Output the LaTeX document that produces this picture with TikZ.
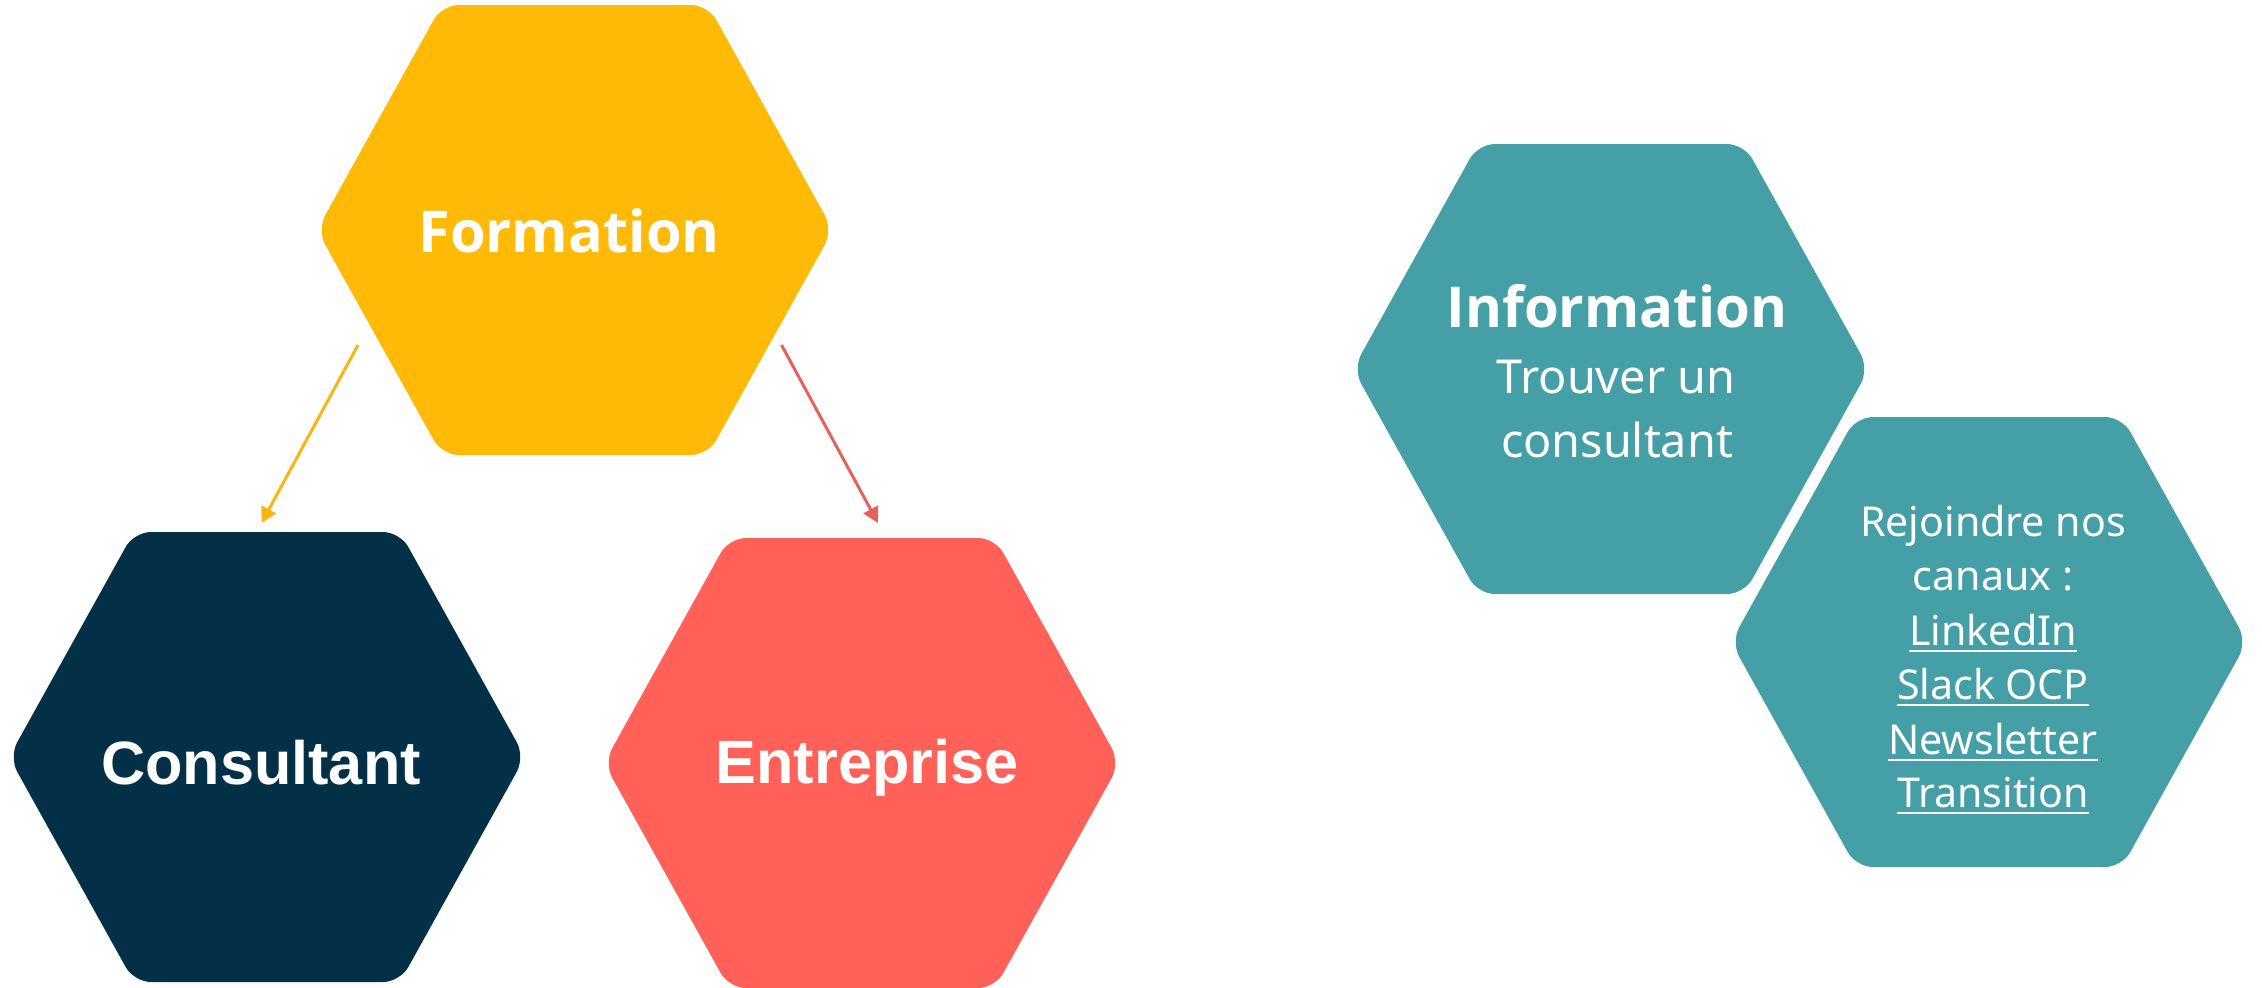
\documentclass[tikz,border=0pt]{standalone}
\usepackage{fontspec}
\setmainfont{Liberation Sans}
\newfontfamily\notofont{Noto Sans}
\newfontfamily\boldsans{Open Sans}
\usetikzlibrary{arrows.meta}
\definecolor{formc}{HTML}{FFB907}
\definecolor{consc}{HTML}{043047}
\definecolor{entc}{HTML}{FF6158}
\definecolor{tealc}{HTML}{449FA7}
\definecolor{yarrow}{HTML}{F9B612}
\definecolor{rarrow}{HTML}{E5625B}
\newcommand\hexpath[2]{(#1-258,#2) -- (#1-133,#2-225) -- (#1+133,#2-225) -- (#1+258,#2) -- (#1+133,#2+225) -- (#1-133,#2+225) -- cycle}
\newcommand\ulx[1]{\setbox0\hbox{#1}\rlap{\rule[-1.9pt]{\wd0}{0.6pt}}\box0}
\tikzset{
  hexshape/.style={rounded corners=4.8pt},
  bigtitle/.style={text=white, inner sep=0pt, anchor=base, font=\bfseries\fontsize{17.4}{20}\selectfont},
  formtitle/.style={text=white, inner sep=0pt, anchor=base, font=\boldsans\bfseries\fontsize{16.4}{20}\selectfont},
  infotitle/.style={text=white, inner sep=0pt, anchor=base, font=\boldsans\bfseries\fontsize{16.0}{20}\selectfont},
  infotext/.style={text=white, inner sep=0pt, anchor=base, font=\notofont\fontsize{13.3}{18}\selectfont},
  chantext/.style={text=white, inner sep=0pt, anchor=base, font=\notofont\fontsize{11.7}{15}\selectfont},
  linkarrow/.style={line width=0.85pt, -{Triangle[length=4.4pt,width=4.6pt]}}
}
\begin{document}
\begin{tikzpicture}[x=0.01cm,y=-0.01cm]
\path[use as bounding box] (0,0) rectangle (2262,987);
% hexagons
\fill[formc, hexshape] \hexpath{575}{230};
\fill[consc, hexshape] \hexpath{267}{757};
\fill[entc, hexshape] \hexpath{862}{763};
\fill[tealc, hexshape] \hexpath{1611}{369};
\fill[tealc, hexshape] \hexpath{1989}{642};
% titles
\node[formtitle] (formation) at (569,252) {Formation};
\node[bigtitle] (consultant) at (261,784) {Consultant};
\node[bigtitle] (entreprise) at (867,783) {Entreprise};
\node[infotitle] (information) at (1617,327) {Information};
\node[infotext] (info2) at (1616,393) {Trouver un};
\node[infotext] (info3) at (1617,457) {consultant};
\node[chantext] (ch1) at (1993,536) {Rejoindre nos};
\node[chantext] (ch2) at (1993,590.5) {canaux :};
\node[chantext] (ch3) at (1993,645) {\ulx{LinkedIn}};
\node[chantext] (ch4) at (1993,699) {\ulx{Slack OCP}};
\node[chantext] (ch5) at (1993,754) {\ulx{Newsletter}};
\node[chantext] (ch6) at (1993,807) {\ulx{Transition}};
% arrows
\coordinate (ys) at (358,345);
\coordinate (ye) at (261.5,523);
\coordinate (rs) at (781.5,345);
\coordinate (re) at (878,523);
\draw[linkarrow, yarrow] (ys) -- (ye);
\draw[linkarrow, rarrow] (rs) -- (re);
\end{tikzpicture}
\end{document}
